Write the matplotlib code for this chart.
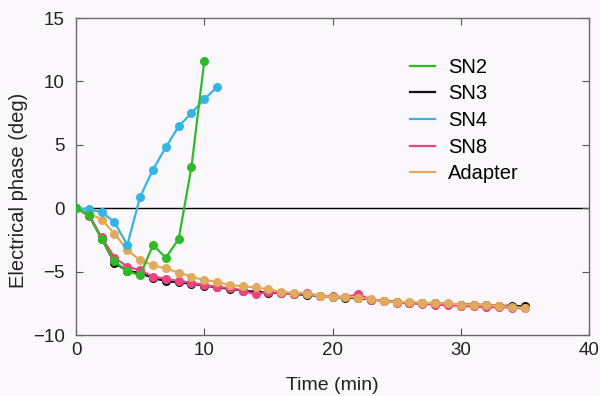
import matplotlib.pyplot as plt
from matplotlib.lines import Line2D

plt.rcParams['font.family'] = ['Liberation Sans', 'DejaVu Sans']

# time points (min)
t_sn2 = [0, 1, 2, 3, 4, 5, 6, 7, 8, 9, 10]
sn2 = [0, -0.55, -2.45, -4.2, -4.95, -5.3, -2.9, -3.9, -2.45, 3.25, 11.6]

t_sn4 = [0, 1, 2, 3, 4, 5, 6, 7, 8, 9, 10, 11]
sn4 = [0, -0.1, -0.3, -1.1, -2.9, 0.9, 3.05, 4.8, 6.45, 7.5, 8.6, 9.55]

t_long = list(range(0, 36))
sn3 = [0, -0.5, -2.4, -4.3, -4.95, -5.1, -5.5, -5.75, -5.85, -5.95,
       -6.1, -6.25, -6.35, -6.5, -6.6, -6.65, -6.7, -6.75, -6.85, -6.9,
       -7.0, -7.05, -7.1, -7.2, -7.3, -7.4, -7.45, -7.5, -7.5, -7.55,
       -7.6, -7.6, -7.65, -7.7, -7.7, -7.75]
sn8 = [0, -0.6, -2.3, -3.9, -4.6, -4.9, -5.4, -5.55, -5.75, -5.86,
       -6.07, -6.2, -6.3, -6.5, -6.8, -6.6, -6.7, -6.75, -6.7, -6.9,
       -6.95, -7.0, -6.8, -7.2, -7.3, -7.45, -7.5, -7.55, -7.6, -7.65,
       -7.7, -7.75, -7.8, -7.8, -7.85, -7.9]
adapter = [0, -0.37, -0.9, -2.0, -3.3, -4.1, -4.5, -4.75, -5.07, -5.4,
           -5.68, -5.8, -6.07, -6.15, -6.25, -6.4, -6.6, -6.68, -6.73, -6.9,
           -7.0, -7.0, -7.05, -7.18, -7.33, -7.4, -7.4, -7.44, -7.5, -7.5,
           -7.6, -7.6, -7.65, -7.7, -7.78, -7.86]

x_ticks = [0, 10, 20, 30, 40]
y_ticks = [-10, -5, 0, 5, 10, 15]
y_ticklabels = ['\u221210', '\u22125', '0', '5', '10', '15']

c_sn2 = '#2fba2a'
c_sn3 = '#111111'
c_sn4 = '#35b4e6'
c_sn8 = '#ec4480'
c_ad = '#e2aa5c'

fig = plt.figure(figsize=(6, 3.96), dpi=100)
fig.patch.set_facecolor('#fbf8fc')
ax = fig.add_axes([0.1267, 0.154, 0.855, 0.8005])
ax.set_facecolor('#fbf8fc')

ax.axhline(0, color='black', lw=1.0, zorder=1)

kw = dict(lw=1.6, marker='o', ms=5.5)
ax.plot(t_long, sn3, color=c_sn3, label='SN3', zorder=2, **kw)
ax.plot(t_long, sn8, color=c_sn8, label='SN8', zorder=3, **kw)
ax.plot(t_long, adapter, color=c_ad, label='Adapter', zorder=4, **kw)
ax.plot(t_sn4, sn4, color=c_sn4, label='SN4', zorder=5, **kw)
ax.plot(t_sn2, sn2, color=c_sn2, label='SN2', zorder=6, **kw)

ax.set_xlim(0, 40)
ax.set_ylim(-10, 15)
ax.set_xticks(x_ticks)
ax.set_yticks(y_ticks)
ax.set_yticklabels(y_ticklabels)
ax.tick_params(direction='in', length=5, width=0.8, labelsize=13.5,
               top=True, right=True, colors='#555555', labelcolor='#222222')
ax.tick_params(axis='x', pad=5)
ax.tick_params(axis='y', pad=8)
for s in ax.spines.values():
    s.set_color('#6a6a6a')
    s.set_linewidth(1.0)

ax.set_xlabel('Time (min)', fontsize=14, color='#222222', labelpad=13)
ax.set_ylabel('Electrical phase (deg)', fontsize=14.5, color='#222222')
ax.yaxis.set_label_coords(-0.0936, 0.457)

order = ['SN2', 'SN3', 'SN4', 'SN8', 'Adapter']
colors = [c_sn2, c_sn3, c_sn4, c_sn8, c_ad]
leg_h = [Line2D([], [], color=c, lw=1.6) for c in colors]
ax.legend(leg_h, order, loc='upper left', bbox_to_anchor=(0.635, 0.90),
          frameon=False, fontsize=14.5, handlelength=1.25, labelspacing=0.38,
          handletextpad=0.65, borderaxespad=0.0)

fig.savefig('out.png', dpi=100, facecolor=fig.get_facecolor())
